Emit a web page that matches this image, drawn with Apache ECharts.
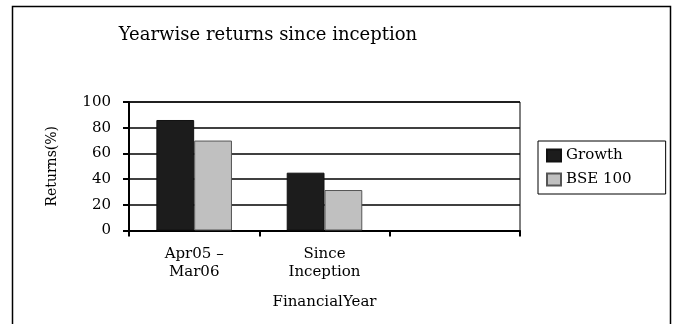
<!DOCTYPE html>
<html><head><meta charset="utf-8">
<script src="https://cdn.jsdelivr.net/npm/echarts@6/dist/echarts.min.js"></script>
<style>html,body{margin:0;padding:0;background:#fff}#c{width:673px;height:324px}</style>
</head><body><div id="c"></div>
<script>
const categories = ['Apr05 –\nMar06', 'Since\nInception', ''];
const growth = [86, 45, null];
const bse100 = [70, 31.5, null];
const yTicks = [0, 20, 40, 60, 80, 100];
const seriesNames = ['Growth', 'BSE 100'];
const titleText = 'Yearwise returns since inception';

const FONT = 'DejaVu Serif';
const chart = echarts.init(document.getElementById('c'));
chart.setOption({
  animation: false,
  backgroundColor: '#fff',
  textStyle: { fontFamily: FONT, color: '#000' },
  graphic: [{
    type: 'rect', shape: { x: 12.5, y: 6.5, width: 658, height: 330 },
    style: { fill: 'none', stroke: '#000', lineWidth: 1.5 }, silent: true
  }],
  title: {
    text: titleText, left: 263, textAlign: 'center', top: 21,
    textStyle: { fontFamily: FONT, fontSize: 18, fontWeight: 'normal', color: '#000' }
  },
  legend: {
    orient: 'vertical', left: 538, top: 141,
    padding: [7, 34, 7, 8], itemGap: 9,
    borderColor: '#000', borderWidth: 1,
    itemWidth: 14, itemHeight: 12,
    icon: 'rect',
    textStyle: { fontFamily: FONT, fontSize: 15, color: '#000' },
    data: seriesNames
  },
  grid: { left: 129, right: 153, top: 102, bottom: 93.5, show: true, borderColor: '#000', borderWidth: 1, backgroundColor: 'transparent' },
  xAxis: {
    type: 'category', data: categories,
    name: 'FinancialYear', nameLocation: 'middle', nameGap: 64,
    nameTextStyle: { fontFamily: FONT, fontSize: 15, color: '#000' },
    axisLine: { lineStyle: { color: '#000', width: 2 } },
    axisTick: { show: true, length: 6, lineStyle: { color: '#000', width: 2 }, alignWithLabel: false },
    axisLabel: { fontFamily: FONT, fontSize: 15, color: '#000', margin: 15, lineHeight: 18, interval: 0 }
  },
  yAxis: {
    type: 'value', min: yTicks[0], max: yTicks[yTicks.length - 1], interval: 20,
    name: 'Returns(%)', nameLocation: 'middle', nameGap: 70, nameRotate: 90,
    nameTextStyle: { fontFamily: FONT, fontSize: 14, color: '#000' },
    axisLine: { show: true, lineStyle: { color: '#000', width: 2 } },
    axisTick: { show: true, length: 6, lineStyle: { color: '#000', width: 2 } },
    axisLabel: { fontFamily: FONT, fontSize: 15, color: '#000', margin: 18 },
    splitLine: { show: true, lineStyle: { color: '#000', width: 1.5 } }
  },
  series: [
    { name: seriesNames[0], type: 'bar', data: growth, barGap: '0%', barCategoryGap: '42%',
      itemStyle: { color: '#1c1c1c', borderColor: '#111', borderWidth: 1 } },
    { name: seriesNames[1], type: 'bar', data: bse100,
      itemStyle: { color: '#c0c0c0', borderColor: '#555', borderWidth: 1 } }
  ]
});
</script></body></html>
